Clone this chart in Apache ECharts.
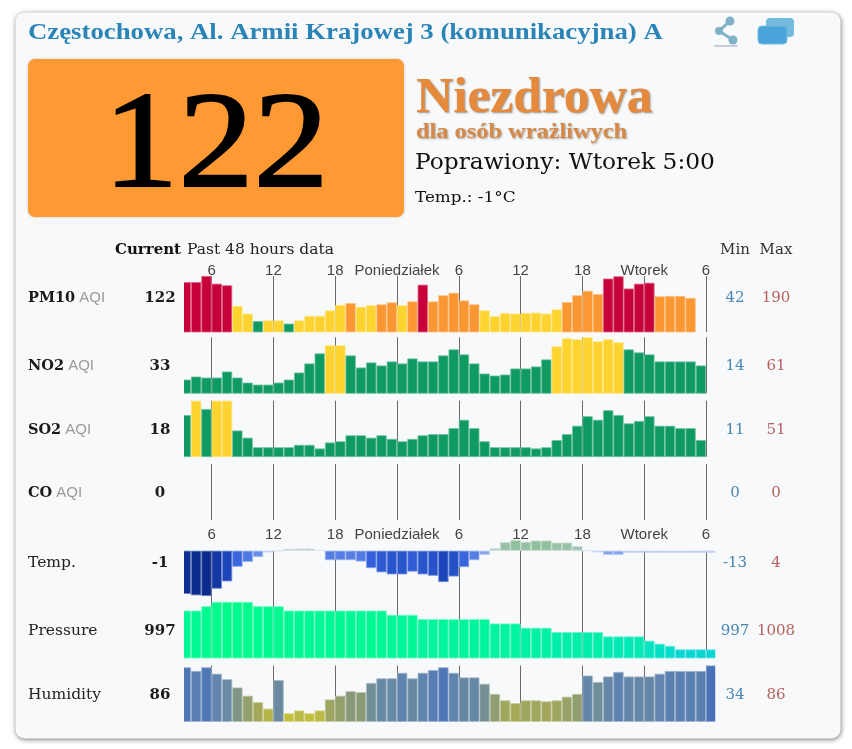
<!DOCTYPE html>
<html><head><meta charset="utf-8">
<style>html,body{margin:0;padding:0;background:#fff}#c{width:852px;height:749px}</style>
<script src="https://cdn.jsdelivr.net/npm/echarts@6/dist/echarts.min.js"></script>
</head><body><div id="c"></div>
<script>
const hourValues=[3,9,15,21,27,33,39,45,51];
const hourLabels=['6','12','18','Poniedziałek','6','12','18','Wtorek','6'];
const rowNames=['PM10','NO2','SO2','CO','Temp.','Pressure','Humidity'];
const currentValues=['122','33','18','0','-1','997','86'];
const minValues=['42','14','11','0','-13','997','34'];
const maxValues=['190','61','51','0','4','1008','86'];
const pm10=[171,171,190,166,161,97,73,50,52,52,42,52,66,66,83,100,106,94,99,102,108,99,111,163,111,130,138,114,102,83,65,75,73,75,76,73,86,109,130,144,134,182,189,151,166,169,127,128,128,122];
const no2=[19,22,21,21,27,21,16,14,14,16,19,26,35,45,53,53,43,31,36,33,37,35,40,37,37,43,49,44,35,25,23,24,30,30,32,39,52,60,59,61,57,59,56,49,46,44,37,37,37,37,33];
const so2=[39,51,44,51,51,26,20,12,12,12,12,14,14,11,16,17,22,22,20,22,19,17,19,22,23,23,28,35,28,17,12,12,12,12,11,12,18,23,30,38,35,43,39,32,34,38,30,30,28,28,18];
const co=[];
const temp=[-12.4,-12.8,-13,-10.9,-8.8,-4.6,-3.2,-1.8,-0.5,-0.1,0.5,0.6,0.6,0.1,-2.7,-2.7,-2.7,-3.1,-5,-6.2,-6.8,-6.8,-6,-6.8,-7.2,-9,-7.4,-4.7,-2.7,-1.2,0.7,2.4,3,2.5,2.9,2.9,2.3,2.3,1.3,0,-0.5,-1.2,-1.2,-0.6,-0.6,-0.6,-0.6,-0.6,-0.6,-0.6,-0.6,-0.6];
const pressure=[1006,1006,1007,1008,1008,1008,1008,1007,1007,1007,1006,1006,1006,1006,1006,1006,1006,1006,1006,1006,1005,1005,1005,1004,1004,1004,1004,1004,1004,1004,1003,1003,1003,1002,1002,1002,1001,1001,1001,1001,1001,1000,1000,1000,1000,999,998.3,997.8,997,997,997,997];
const humidity=[84,80,84,77,71,62,53,46,39,70,34,37,34,37,49,53,58,57,67,72,72,78,72,78,81,84,78,73,73,66,55,48,45,48,48,47,48,52,55,75,68,74,79,74,74,74,77,80,80,80,80,86];

function hex(c){return [1,3,5].map(i=>parseInt(c.substr(i,2),16));}
function toHex(a){return '#'+a.map(v=>Math.round(v).toString(16).padStart(2,'0')).join('');}
function mix(a,b,t){const x=hex(a),y=hex(b);return toHex(x.map((v,i)=>v+(y[i]-v)*t));}
function ramp(stops,v){
  if(v<=stops[0][0])return stops[0][1];
  for(let i=1;i<stops.length;i++){
    if(v<=stops[i][0]){const t=(v-stops[i-1][0])/(stops[i][0]-stops[i-1][0]);return mix(stops[i-1][1],stops[i][1],t);}
  }
  return stops[stops.length-1][1];
}
const aqiColor=v=>v<=50?'#0f9a62':v<=100?'#fdd42f':v<=150?'#fb9733':'#c8003a';
const tempColor=v=>ramp([[-13,'#0a2a8c'],[-9,'#1b45b8'],[-5,'#3562dc'],[-2,'#5f86e6'],[-0.6,'#a9bcf2'],[0,'#c4d4ee'],[0.8,'#a9c4c0'],[3,'#90bf9c']],v);
const pressColor=v=>ramp([[997,'#08d6d2'],[999,'#00e4c0'],[1001,'#00eeaa'],[1004,'#00f59c'],[1008,'#00fb8c']],v);
const humColor=v=>ramp([[34,'#c2bf3e'],[45,'#a6a956'],[55,'#909e70'],[70,'#6b8aa0'],[78,'#5f84ae'],[86,'#4a72b8']],v);

const rows=[
 {data:pm10,color:aqiColor,min:16,max:190,top:276,axis:'top'},
 {data:no2,color:aqiColor,min:5.4,max:61,top:337.3,axis:'bottom'},
 {data:so2,color:aqiColor,min:4.1,max:51,top:400.7,axis:'bottom'},
 {data:co,color:aqiColor,min:0,max:1,top:464,axis:'bottom'},
 {data:temp,color:tempColor,min:-13,max:3.07,top:540,axis:'top'},
 {data:pressure,color:pressColor,min:995,max:1008,top:602,axis:'bottom'},
 {data:humidity,color:humColor,min:25,max:86,top:665.5,axis:'bottom'}
];
const H=56;
const labelMap={};hourValues.forEach((v,i)=>labelMap[v]=hourLabels[i]);
const cardFill='#f7f9fa';

const grids=[],xAxes=[],yAxes=[],series=[];
rows.forEach((r,i)=>{
  grids.push({left:184,width:531.3,top:r.top,height:H,containLabel:false});
  xAxes.push({type:'value',gridIndex:i,min:0.32,max:51.9,position:r.axis,
    axisLine:{show:false},splitLine:{show:false},
    axisTick:{show:true,inside:true,length:H,customValues:hourValues,lineStyle:{color:'#6a6a6a',width:1}},
    axisLabel:r.axis==='top'?{show:true,customValues:hourValues,margin:-2,color:'#444',fontFamily:'Liberation Sans',fontSize:15,formatter:v=>labelMap[v]||''}:{show:false}});
  yAxes.push({type:'value',gridIndex:i,min:r.min,max:r.max,show:false,splitLine:{show:false}});
  series.push({type:'bar',xAxisIndex:i,yAxisIndex:i,barWidth:10.3,clip:true,silent:true,animation:false,
    data:r.data.map((v,k)=>{const c=r.color(v);return {value:[k+0.5,v],itemStyle:{color:c,borderColor:mix(c,'#ffffff',0.4),borderWidth:0.8}};})});
});

const serif='"DejaVu Serif"';
const title='"Liberation Serif"';
const rowY=[298,366,430,493,563,631,695];
const texts=[];
function t(x,y,text,o){texts.push({type:'text',x,y,z:20,style:Object.assign({text,x:0,y:0,fontFamily:serif,fill:'#222',verticalAlign:'middle',align:'left'},o||{})});}
rowNames.forEach((n,i)=>{
  const aqi=i<4;
  texts.push({type:'text',x:28,y:rowY[i],z:20,style:{
    text:aqi?`{a|${n}}{b| AQI}`:`{c|${n}}`,verticalAlign:'middle',
    rich:{a:{fontFamily:serif,fontWeight:'bold',fontSize:14.5,fill:'#1a1a1a'},b:{fontFamily:'Liberation Sans',fontSize:15,fill:'#9a9a9a'},c:{fontFamily:serif,fontSize:15.5,fill:'#222'}}}});
  t(160,rowY[i],currentValues[i],{align:'center',fontWeight:'bold',fontSize:15,fill:'#1c1c1c'});
  t(735,rowY[i],minValues[i],{align:'center',fontSize:15,fill:'#4a86b4'});
  t(776,rowY[i],maxValues[i],{align:'center',fontSize:15,fill:'#b8605c'});
});

const graphic=[
 {type:'rect',z:0,shape:{x:15.5,y:12.5,width:825,height:726,r:9},style:{fill:cardFill,shadowBlur:5,shadowColor:'rgba(0,0,0,0.55)',shadowOffsetX:0.5,shadowOffsetY:1}},
 {type:'rect',z:30,shape:{x:176,y:270,width:8,height:460},style:{fill:cardFill}},
 {type:'rect',z:30,shape:{x:715.3,y:270,width:4,height:460},style:{fill:cardFill}},
 {type:'text',x:28,y:33,scaleX:1.115,z:20,style:{text:'Częstochowa, Al. Armii Krajowej 3 (komunikacyjna) AQI',fontFamily:title,fontWeight:'bold',fontSize:24,fill:'#2b84b8',verticalAlign:'middle'}},
 {type:'rect',z:21,shape:{x:663,y:20,width:48,height:27},style:{fill:cardFill}},
 {type:'line',z:22,shape:{x1:730,y1:21,x2:719,y2:31},style:{stroke:'#7fb2c6',lineWidth:3}},
 {type:'line',z:22,shape:{x1:719,y1:31,x2:733,y2:40},style:{stroke:'#7fb2c6',lineWidth:3}},
 {type:'circle',z:22,shape:{cx:730,cy:21,r:4.5},style:{fill:'#7fb2c6'}},
 {type:'circle',z:22,shape:{cx:719,cy:31,r:4},style:{fill:'#7fb2c6'}},
 {type:'circle',z:22,shape:{cx:733,cy:40,r:4.5},style:{fill:'#7fb2c6'}},
 {type:'rect',z:22,shape:{x:714,y:45,width:24,height:2,r:1},style:{fill:'#c9ccd6'}},
 {type:'rect',z:22,shape:{x:766,y:18,width:28,height:19,r:4},style:{fill:'#72bbde'}},
 {type:'rect',z:23,shape:{x:758,y:26,width:29,height:18,r:4},style:{fill:'#4aa4da',stroke:'#72bbde',lineWidth:1}},
 {type:'rect',z:5,shape:{x:28,y:59,width:376,height:158,r:7},style:{fill:'#ff9933',shadowBlur:3,shadowColor:'rgba(0,0,0,0.2)'}},
 {type:'text',x:216,y:150,scaleX:1.09,z:20,style:{text:'122',fontFamily:title,fontSize:138,fill:'#000',stroke:'#000',lineWidth:2,align:'center',verticalAlign:'middle'}},
 {type:'text',x:416,y:99,scaleX:1.03,z:20,style:{text:'Niezdrowa',fontFamily:title,fontWeight:'bold',fontSize:50,fill:'#e5893c',verticalAlign:'middle',textShadowColor:'rgba(90,70,50,0.6)',textShadowBlur:2,textShadowOffsetX:1,textShadowOffsetY:1}},
 {type:'text',x:416,y:133,scaleX:1.16,z:20,style:{text:'dla osób wrażliwych',fontFamily:title,fontWeight:'bold',fontSize:21,fill:'#d68a4a',verticalAlign:'middle',textShadowColor:'rgba(90,70,50,0.5)',textShadowBlur:2,textShadowOffsetX:1,textShadowOffsetY:1}},
 {type:'text',x:415,y:163,scaleX:1.06,z:20,style:{text:'Poprawiony: Wtorek 5:00',fontFamily:serif,fontSize:22,fill:'#111',verticalAlign:'middle'}},
 {type:'text',x:415,y:198,scaleX:1.12,z:20,style:{text:'Temp.: -1°C',fontFamily:serif,fontSize:15,fill:'#111',verticalAlign:'middle'}}
];
t(115,250,'Current',{fontWeight:'bold',fontSize:15,fill:'#111'});
t(187,250,'Past 48 hours data',{fontSize:15.5,fill:'#222'});
t(735,250,'Min',{align:'center',fontSize:15,fill:'#333'});
t(776,250,'Max',{align:'center',fontSize:15,fill:'#333'});

const chart=echarts.init(document.getElementById('c'),null,{renderer:'canvas'});
chart.setOption({animation:false,backgroundColor:'#ffffff',grid:grids,xAxis:xAxes,yAxis:yAxes,series,graphic:graphic.concat(texts)});
</script></body></html>
